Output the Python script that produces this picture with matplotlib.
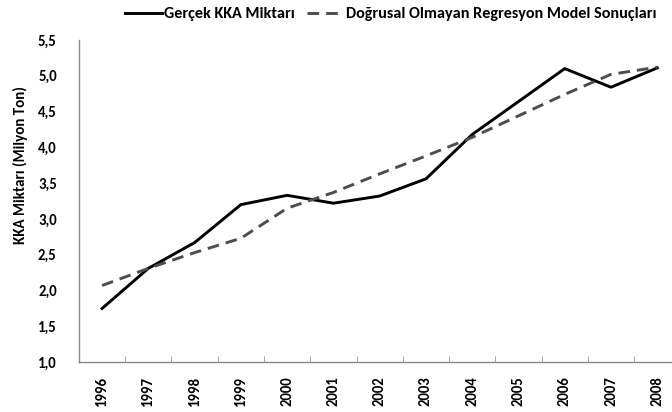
import matplotlib
matplotlib.use("Agg")
import matplotlib.pyplot as plt
import numpy as np

plt.rcParams['font.family'] = ['Carlito', 'DejaVu Sans']
plt.rcParams['font.weight'] = 'bold'

years = ['1996', '1997', '1998', '1999', '2000', '2001', '2002',
         '2003', '2004', '2005', '2006', '2007', '2008']
actual = [1.75, 2.31, 2.67, 3.20, 3.33, 3.22, 3.32,
          3.56, 4.18, 4.64, 5.10, 4.84, 5.11]
model = [2.07, 2.31, 2.53, 2.73, 3.15, 3.37, 3.63,
         3.88, 4.14, 4.44, 4.74, 5.02, 5.12]
yticks = [1.0, 1.5, 2.0, 2.5, 3.0, 3.5, 4.0, 4.5, 5.0, 5.5]

fig = plt.figure(figsize=(6.72, 4.12), dpi=100)
ax = fig.add_axes([0.1175, 0.121, 0.895, 0.782])

x = np.arange(len(years))
ax.plot(x, actual, color='black', lw=2.1, label='Gerçek KKA Miktarı')
ax.plot(x, model, color='#4d4d4d', lw=2.1, linestyle=(0, (4.0, 2.4)),
        label='Doğrusal Olmayan Regresyon Model Sonuçları')

ax.set_xlim(-0.5, len(years) - 0.5)
ax.set_ylim(1.0, 5.5)
ax.set_yticks(yticks)
ax.set_yticklabels([f"{v:.1f}".replace('.', ',') for v in yticks],
                   fontsize=10.6, fontweight='bold')
ax.set_xticks(x)
ax.set_xticklabels(years, rotation=90, fontsize=10.6, fontweight='bold')
ax.set_xticks(np.arange(len(years) + 1) - 0.5, minor=True)
ax.tick_params(axis='x', which='major', length=0, pad=10)
ax.tick_params(axis='x', which='minor', direction='in', length=4, color='#999999')
ax.tick_params(axis='y', length=0, pad=16)

for s in ['top', 'right']:
    ax.spines[s].set_visible(False)
for s in ['left', 'bottom']:
    ax.spines[s].set_color('#888888')
    ax.spines[s].set_linewidth(1)

ax.set_ylabel('KKA Miktarı (Milyon Ton)', fontsize=10.8, fontweight='bold')
ax.yaxis.set_label_coords(-0.085, 0.612)

ax.legend(loc='center left', bbox_to_anchor=(125 / 672, 1 - 14 / 412),
          bbox_transform=fig.transFigure, ncol=2, frameon=False,
          prop={'size': 11.6, 'weight': 'bold'}, handlelength=2.3,
          handletextpad=0.1, columnspacing=0.8, borderaxespad=0, borderpad=0)

fig.savefig('out.png', dpi=100)
